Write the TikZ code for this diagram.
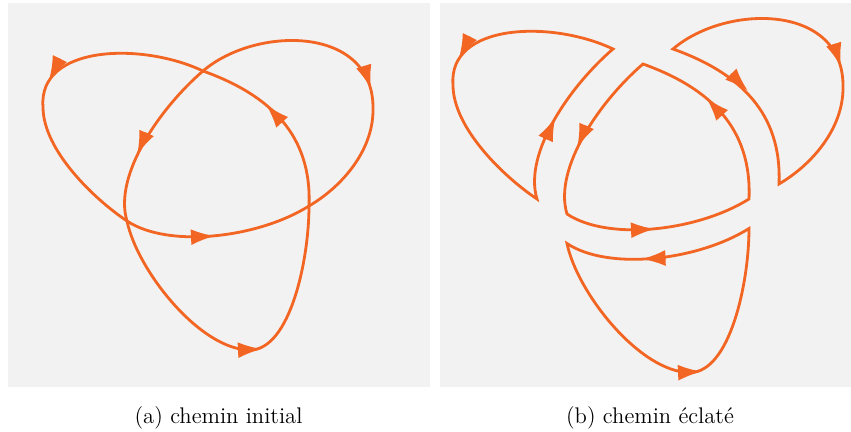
\documentclass[tikz,border=0pt]{standalone}
\usetikzlibrary{arrows.meta}
\definecolor{knotorange}{RGB}{242,101,34}
\definecolor{panelgray}{RGB}{242,242,242}

% arcs of the trefoil, each from the current point to #1
\newcommand{\arcA}[1]{.. controls (142,42) and (38,45) .. (43,107) .. controls (43,150) and (94,199) .. (#1)}
\newcommand{\arcB}[1]{.. controls (312,135) and (270,95) .. (#1)}
\newcommand{\arcBrev}[1]{.. controls (270,95) and (312,135) .. (#1)}
\newcommand{\arcC}[1]{.. controls (137,270) and (200,350) .. (250,350) .. controls (290,350) and (309,260) .. (#1)}
\newcommand{\arcD}[1]{.. controls (161,107) and (113,175) .. (#1)}
\newcommand{\arcDrev}[1]{.. controls (113,175) and (161,107) .. (#1)}
\newcommand{\arcE}[1]{.. controls (256,25.5) and (375,25) .. (373,110) .. controls (373,150) and (343,186) .. (#1)}
\newcommand{\arcF}[1]{.. controls (168.5,248.5) and (258,238) .. (#1)}
\newcommand{\arcFrev}[1]{.. controls (258,238) and (168.5,248.5) .. (#1)}

\begin{document}
\begin{tikzpicture}[x=0.5pt, y=-0.5pt, panel/.style={fill=panelgray}, knot/.style={draw=knotorange, line width=1.4pt}, head/.style={knot, -{Latex[length=12pt,width=8pt]}}, caption/.style={anchor=base, font=\fontsize{11.3}{13}\selectfont}]
\useasboundingbox (0,0) rectangle (851,432);
\fill[panel] (8,3.3) rectangle (430,386.7);
\fill[panel] (440,3.3) rectangle (851,386.7);

% (a) initial path
\coordinate (T) at (203,71);
\coordinate (L) at (127,221);
\coordinate (R) at (309,206);
\draw[knot] (T) \arcA{L};
\draw[knot] (R) \arcB{T};
\draw[knot] (L) \arcC{R};
\draw[knot] (T) \arcD{L};
\draw[knot] (T) \arcE{R};
\draw[knot] (L) \arcF{R};
\draw[head] (59.8,58.6) -- (49,80);
\draw[head] (282.1,122.3) -- (266,104.5);
\draw[head] (238,350.2) -- (262,349);
\draw[head] (146.6,132.9) -- (137,155);
\draw[head] (363.8,66.2) -- (371,89);
\draw[head] (191,237.2) -- (215,236);

% (b) exploded path
\begin{scope}[shift={(410,-22)}]
\coordinate (aT) at (203,71);
\coordinate (aL) at (127,221);
\draw[knot] (aT) \arcA{aL} \arcDrev{aT} -- cycle;
\draw[head] (59.8,58.6) -- (49,80);
\draw[head] (135.7,160.8) -- (145.5,139);
\end{scope}
\begin{scope}[shift={(470,-22)}]
\coordinate (eT) at (203,71);
\coordinate (eR) at (309,206);
\draw[knot] (eT) \arcE{eR} \arcB{eT} -- cycle;
\draw[head] (363.8,66.2) -- (371,89);
\draw[head] (261,96.2) -- (278,113);
\end{scope}
\begin{scope}[shift={(440,22.5)}]
\coordinate (cL) at (127,221);
\coordinate (cR) at (309,206);
\draw[knot] (cL) \arcC{cR} \arcFrev{cL} -- cycle;
\draw[head] (238,350.2) -- (262,349);
\draw[head] (225.5,235.5) -- (201.5,236.5);
\end{scope}
\begin{scope}[shift={(440,-7)}]
\coordinate (mT) at (203,71);
\coordinate (mL) at (127,221);
\coordinate (mR) at (309,206);
\draw[knot] (mT) \arcD{mL} \arcF{mR} \arcB{mT} -- cycle;
\draw[head] (146.6,132.9) -- (137,155);
\draw[head] (191,237.2) -- (215,236);
\draw[head] (282.1,122.3) -- (266,104.5);
\end{scope}

\node[caption] (capa) at (218.5,423) {(a) chemin initial};
\node[caption] (capb) at (650,423) {(b) chemin éclaté};
\end{tikzpicture}
\end{document}
